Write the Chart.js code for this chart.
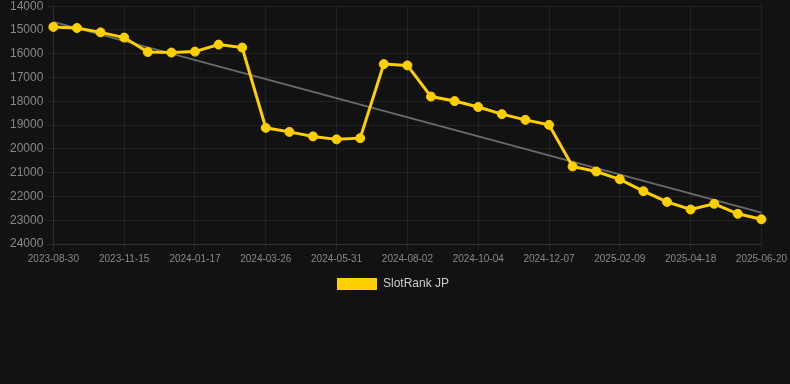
<!DOCTYPE html>
<html>
<head>
<meta charset="utf-8">
<script src="https://cdn.jsdelivr.net/npm/chart.js@4/dist/chart.umd.min.js"></script>
<style>
  html, body { margin: 0; padding: 0; background: #121212; overflow: hidden; }
  #wrap { width: 790px; height: 305px; position: relative; margin-top: -5px; }
</style>
</head>
<body>
<div id="wrap"><canvas id="c"></canvas></div>
<script>
const dates = [
  "2023-08-30","2023-09-25","2023-10-20","2023-11-15","2023-12-06","2023-12-27",
  "2024-01-17","2024-02-09","2024-03-03","2024-03-26","2024-04-17","2024-05-09",
  "2024-05-31","2024-06-21","2024-07-12","2024-08-02","2024-08-23","2024-09-13",
  "2024-10-04","2024-10-25","2024-11-16","2024-12-07","2024-12-28","2025-01-19",
  "2025-02-09","2025-03-04","2025-03-27","2025-04-18","2025-05-09","2025-05-30",
  "2025-06-20"
];
const rankJP = [
  14870, 14915, 15100, 15320, 15925, 15950, 15910, 15615, 15740,
  19115, 19285, 19475, 19600, 19550, 16435, 16490, 17800, 17990,
  18240, 18540, 18780, 18990, 20740, 20950, 21280, 21780, 22230,
  22550, 22310, 22730, 22960
];
const trend = [
  14660, null, null, null, null, null, null, null, null, null, null,
  null, null, null, null, null, null, null, null, null, null, null,
  null, null, null, null, null, null, null, null, 22680
];
const yTicks = [14000, 15000, 16000, 17000, 18000, 19000, 20000, 21000, 22000, 23000, 24000];

const gridCol = 'rgba(255,255,255,0.07)';
const FONT = 'Liberation Sans, Arial, sans-serif';
new Chart(document.getElementById('c'), {
  type: 'line',
  data: {
    labels: dates,
    datasets: [
      {
        label: 'SlotRank JP',
        data: rankJP,
        borderColor: '#FFD000',
        backgroundColor: '#FFD000',
        borderWidth: 3,
        pointRadius: 4.5,
        pointBorderWidth: 1,
        pointBackgroundColor: '#FFD000',
        pointBorderColor: '#FFD000',
        tension: 0,
        order: 1
      },
      {
        label: 'trend',
        data: trend,
        spanGaps: true,
        borderColor: '#6a6a6a',
        borderWidth: 2,
        pointRadius: 0,
        tension: 0,
        order: 2
      }
    ]
  },
  options: {
    responsive: true,
    maintainAspectRatio: false,
    animation: false,
    layout: { padding: { left: 0, right: 4, top: 0, bottom: 0 } },
    plugins: {
      legend: {
        position: 'bottom',
        labels: {
          color: '#cccccc',
          font: { family: FONT, size: 12 },
          boxWidth: 40,
          boxHeight: 12,
          filter: (item) => item.text !== 'trend',
          generateLabels: (chart) => Chart.defaults.plugins.legend.labels.generateLabels(chart).map(l => Object.assign(l, { lineWidth: 0 }))
        }
      },
      tooltip: { enabled: false }
    },
    scales: {
      x: {
        grid: {
          color: (ctx) => (ctx.index % 3 === 0 ? gridCol : 'transparent'),
          tickLength: 6
        },
        border: { color: gridCol },
        ticks: {
          autoSkip: false,
          maxRotation: 0,
          color: '#888888',
          font: { family: FONT, size: 10 },
          callback: function (v, i) { return i % 3 === 0 ? dates[i] : ''; }
        }
      },
      y: {
        reverse: true,
        min: yTicks[0],
        max: yTicks[yTicks.length - 1],
        afterBuildTicks: (axis) => { axis.ticks = yTicks.map(v => ({ value: v })); },
        afterFit: (axis) => { axis.width += 6; },
        grid: { color: gridCol, tickLength: 6 },
        border: { color: gridCol },
        ticks: {
          color: '#888888',
          font: { family: FONT, size: 12 },
          padding: 4,
          callback: (v) => String(v)
        }
      }
    }
  }
});
</script>
</body>
</html>
